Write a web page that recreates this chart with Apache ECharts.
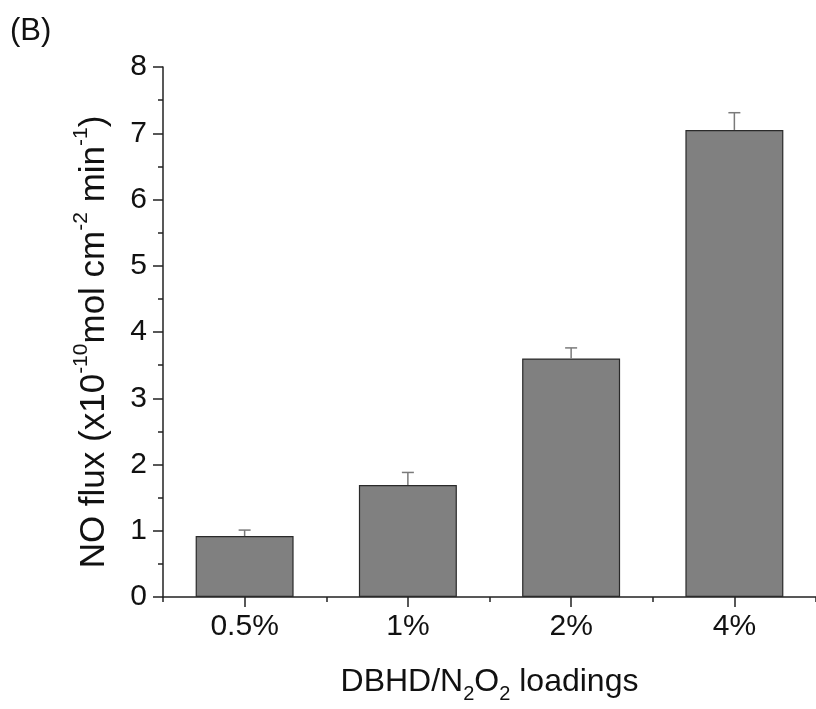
<!DOCTYPE html>
<html>
<head>
<meta charset="utf-8">
<script src="https://cdn.jsdelivr.net/npm/echarts@6/dist/echarts.min.js"></script>
<style>
html,body{margin:0;padding:0;background:#fff;}
#chart{width:816px;height:709px;}
</style>
</head>
<body>
<div id="chart"></div>
<script>
var categories = ['0.5%', '1%', '2%', '4%'];
var fluxValues = [0.92, 1.69, 3.60, 7.05];
var fluxErrors = [0.09, 0.19, 0.16, 0.26];
var yTicks = [0, 1, 2, 3, 4, 5, 6, 7, 8];

var FONT = 'Liberation Sans, Arial, sans-serif';
var chart = echarts.init(document.getElementById('chart'));

var errData = categories.map(function (c, i) { return [i, fluxValues[i], fluxErrors[i]]; });

chart.setOption({
  backgroundColor: '#ffffff',
  animation: false,
  textStyle: { fontFamily: FONT },
  graphic: [{
    type: 'text', left: 10, top: 16,
    style: { text: '(B)', fontSize: 31, fontFamily: FONT, fill: '#111' }
  }],
  grid: { left: 163, top: 67, bottom: 110, width: 656 },
  xAxis: [{
    type: 'category',
    data: categories,
    boundaryGap: true,
    axisLine: { lineStyle: { color: '#222', width: 1.5 } },
    axisTick: { show: true, alignWithLabel: true, length: 10, inside: false, lineStyle: { color: '#222', width: 1.5 } },
    axisLabel: { fontSize: 30, color: '#111', margin: 15, fontFamily: FONT },
    name: '{a|DBHD/N}{s|2}{a|O}{s|2}{a| loadings}',
    nameLocation: 'middle',
    nameGap: 63,
    nameTextStyle: {
      rich: {
        a: { fontSize: 32, lineHeight: 44, color: '#111', fontFamily: FONT },
        s: { fontSize: 20, lineHeight: 20, verticalAlign: 'bottom', color: '#111', fontFamily: FONT }
      }
    }
  }, {
    type: 'category',
    data: categories,
    position: 'bottom',
    boundaryGap: true,
    axisLine: { show: false },
    axisTick: { show: true, alignWithLabel: false, length: 5, lineStyle: { color: '#222', width: 1.5 } },
    axisLabel: { show: false }
  }],
  yAxis: {
    type: 'value',
    min: 0, max: 8, interval: 1,
    axisLine: { show: true, lineStyle: { color: '#222', width: 1.5 } },
    axisTick: { show: true, length: 10, lineStyle: { color: '#222', width: 1.5 } },
    minorTick: { show: true, splitNumber: 2, length: 5, lineStyle: { color: '#222', width: 1.5 } },
    splitLine: { show: false },
    axisLabel: {
      fontSize: 30, color: '#111', margin: 16, fontFamily: FONT,
      formatter: function (v) { return yTicks.indexOf(v) >= 0 ? String(v) : ''; }
    },
    name: '{a|NO flux (x10}{p|-10}{a|mol cm}{p|-2}{a| min}{p|-1}{a|)}',
    nameLocation: 'middle',
    nameGap: 46,
    nameRotate: 90,
    nameTextStyle: {
      padding: [0, 20, 0, 0],
      rich: {
        a: { fontSize: 35, lineHeight: 46, color: '#111', fontFamily: FONT },
        p: { fontSize: 21, lineHeight: 21, verticalAlign: 'top', color: '#111', fontFamily: FONT }
      }
    }
  },
  series: [{
    type: 'bar',
    data: fluxValues,
    barWidth: '60%',
    itemStyle: { color: '#808080', borderColor: '#2a2a2a', borderWidth: 1.2 },
    z: 2
  }, {
    type: 'custom',
    data: errData,
    z: 3,
    renderItem: function (params, api) {
      var x = api.value(0);
      var v = api.value(1);
      var e = api.value(2);
      var p0 = api.coord([x, v]);
      var p1 = api.coord([x, v + e]);
      var hw = 6;
      var st = { stroke: '#7a7a7a', lineWidth: 1.5 };
      return {
        type: 'group',
        children: [
          { type: 'line', shape: { x1: p0[0], y1: p0[1], x2: p1[0], y2: p1[1] }, style: st },
          { type: 'line', shape: { x1: p1[0] - hw, y1: p1[1], x2: p1[0] + hw, y2: p1[1] }, style: st }
        ]
      };
    }
  }]
});
</script>
</body>
</html>
